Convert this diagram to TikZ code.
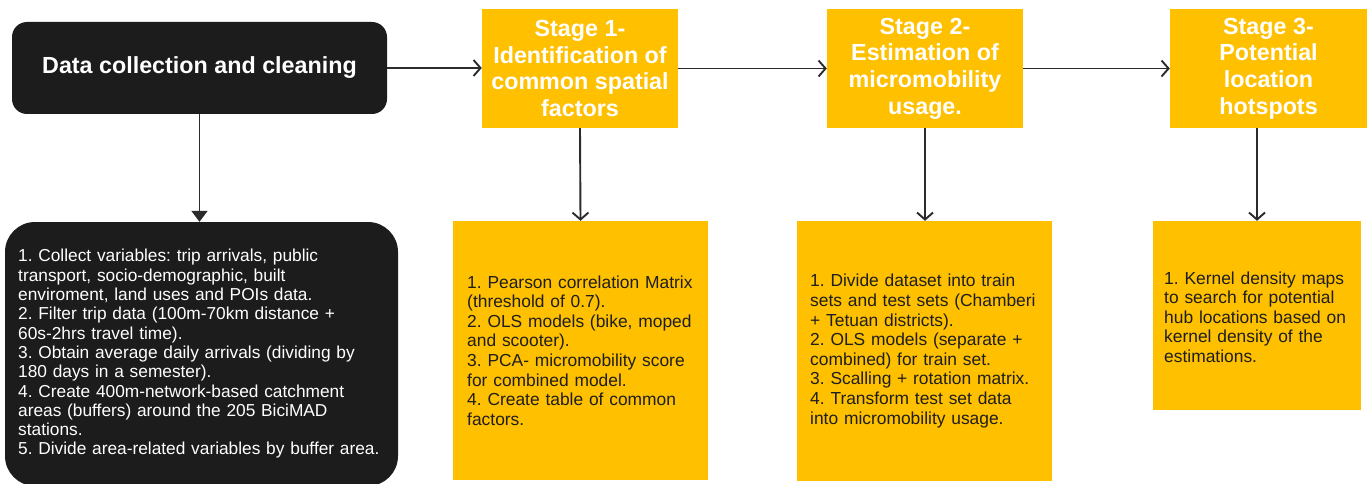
\documentclass[tikz,border=0pt]{standalone}
\usepackage{fontspec}
\setmainfont{Liberation Sans}
\usetikzlibrary{arrows.meta}
\definecolor{gold}{HTML}{FFC000}
\definecolor{darkbox}{HTML}{1C1C1C}
\definecolor{arrowc}{HTML}{2B2B2B}
\definecolor{bodyc}{HTML}{1E1E1E}
\frenchspacing
\begin{document}
\frenchspacing
\begin{tikzpicture}[x=1pt,y=-1pt,
  blackbox/.style={fill=darkbox, draw=none, inner sep=0pt},
  stagebox/.style={fill=gold, draw=none, inner sep=0pt, text=white, align=center,
    font=\bfseries\fontsize{23.3}{26.7}\selectfont},
  goldbox/.style={fill=gold, draw=none, inner sep=0pt},
  bodytext/.style={anchor=west, inner sep=0pt, align=left, text width=400pt,
    font=\fontsize{17.4}{19.6}\selectfont, text=bodyc},
  flow/.style={draw=arrowc, line width=1.9pt, -{Straight Barb[length=7pt,width=16pt]}},
  flowfill/.style={draw=arrowc, line width=1.9pt, -{Triangle[length=11pt,width=16pt]}}
]
\useasboundingbox[fill=white] (0,0) rectangle (1370,484);

% boxes
\node[blackbox, rounded corners=15pt, minimum width=375pt, minimum height=92pt,
  text=white, font=\bfseries\fontsize{23.3}{26.7}\selectfont] (data) at (199.5,68)
  {Data collection and cleaning};
\node[blackbox, rounded corners=30pt, minimum width=393pt, minimum height=264pt] (prep) at (201.5,354) {};

\node[stagebox, minimum width=196pt, minimum height=119pt] (s1) at (580,68.5)
  {Stage 1-\\Identification of\\common spatial\\factors};
\node[stagebox, minimum width=196pt, minimum height=119pt] (s2) at (925,68.5)
  {Stage 2-\\Estimation of\\micromobility\\usage.};
\node[stagebox, minimum width=197pt, minimum height=119pt] (s3) at (1268.5,68.5)
  {Stage 3-\\Potential\\location\\hotspots};

\node[goldbox, minimum width=255pt, minimum height=259pt] (l1) at (580.5,350.5) {};
\node[goldbox, minimum width=255pt, minimum height=260pt] (l2) at (924.5,351) {};
\node[goldbox, minimum width=208pt, minimum height=189pt] (l3) at (1257,315.5) {};

% texts
\node[bodytext, text=white, font=\fontsize{17.3}{19.3}\selectfont] (prept) at (18,354)
  {1. Collect variables: trip arrivals, public\\
   transport, socio-demographic, built\\
   enviroment, land uses and POIs data.\\
   2. Filter trip data (100m-70km distance +\\
   60s-2hrs travel time).\\
   3. Obtain average daily arrivals (dividing by\\
   180 days in a semester).\\
   4. Create 400m-network-based catchment\\
   areas (buffers) around the 205 BiciMAD\\
   stations.\\
   5. Divide area-related variables by buffer area.};
\node[bodytext] (l1t) at (467,350.5)
  {1. Pearson correlation Matrix\\
   (threshold of 0.7).\\
   2. OLS models (bike, moped\\
   and scooter).\\
   3. PCA- micromobility score\\
   for combined model.\\
   4. Create table of common\\
   factors.};
\node[bodytext] (l2t) at (810,351)
  {1. Divide dataset into train\\
   sets and test sets (Chamberi\\
   + Tetuan districts).\\
   2. OLS models (separate +\\
   combined) for train set.\\
   3. Scalling + rotation matrix.\\
   4. Transform test set data\\
   into micromobility usage.};
\node[bodytext] (l3t) at (1164,317)
  {1. Kernel density maps\\
   to search for potential\\
   hub locations based on\\
   kernel density of the\\
   estimations.};

% connectors
\draw[flow] (data.east) -- (data.east -| s1.west);
\draw[flow] (s1.east) -- (s2.west);
\draw[flow] (s2.east) -- (s3.west);
\draw[flowfill] (data.south) -- (data.south |- prep.north);
\draw[flow] (s1.south) -- (l1.north);
\draw[flow] (s2.south) -- (s2.south |- l2.north);
\draw[flow] (s3.south -| l3.north) -- (l3.north);
\end{tikzpicture}
\end{document}
